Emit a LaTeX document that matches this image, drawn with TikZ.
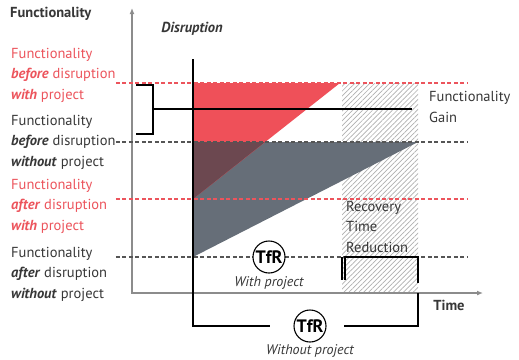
\documentclass[tikz,border=0pt]{standalone}
\usepackage{fontspec}
\setmainfont{PT Sans}
\usetikzlibrary{patterns.meta, arrows.meta, positioning}
\definecolor{gainred}{RGB}{239, 80, 89}
\definecolor{lossgray}{RGB}{102, 110, 120}
\definecolor{overlapred}{RGB}{108, 72, 80}
\definecolor{textdark}{RGB}{55, 55, 55}
\definecolor{textred}{RGB}{236, 84, 92}
\definecolor{axisgray}{RGB}{140, 140, 140}
\definecolor{hatchgray}{RGB}{175, 175, 175}

\begin{document}
\begin{tikzpicture}[x=1pt, y=-1pt,
	lbl/.style={align=left, anchor=west, inner sep=0pt, text=textdark, font=\fontsize{14.5}{20.5}\selectfont},
	level/.style={dash pattern=on 4pt off 2.5pt, line width=1.3pt},
	bracket/.style={line width=1.3pt, black},
	tfr/.style={circle, draw, line width=1.1pt, fill=white, inner sep=0pt, minimum size=32pt, font=\bfseries\fontsize{18}{18}\selectfont},
	note/.style={inner sep=0pt, text=textdark, font=\itshape\fontsize{14}{15}\selectfont}
	]
	\useasboundingbox (0,0) rectangle (519,359);
	
	% Key points
	\coordinate (origin) at (132,293);
	\coordinate (ytop) at (132,8);
	\coordinate (xend) at (483,293);
	\coordinate (distop) at (193,59);
	\coordinate (b1) at (193,83);
	\coordinate (b2) at (193,142);
	\coordinate (a1) at (193,199);
	\coordinate (a2) at (193,257);
	\coordinate (r1) at (340,83);
	\coordinate (r2) at (418,142);
	\coordinate (ovl) at (265,142);
	
	% Recovery time reduction (hatched)
	\fill[pattern={Lines[angle=45, distance=3.5pt, line width=0.7pt]}, pattern color=hatchgray] (342,83) rectangle (418,293);
	
	% Recovery areas
	\fill[lossgray] (b2) -- (r2) -- (a2) -- cycle;
	\fill[gainred] (b1) -- (r1) -- (a1) -- cycle;
	\fill[overlapred] (b2) -- (ovl) -- (a1) -- cycle;
	
	% Axes
	\draw[axisgray, line width=1.3pt, {Latex[length=6pt, width=5pt]}-{Latex[length=6pt, width=5pt]}] (ytop) -- (origin) -- (xend);
	\node[font=\bfseries\fontsize{14.5}{15}\selectfont, text=textdark, anchor=west, inner sep=0pt] (ylab) at (10,14) {Functionality};
	\node[font=\bfseries\fontsize{14.5}{15}\selectfont, text=textdark, inner sep=0pt] (xlab) at (449,305) {Time};
	\node[font=\bfseries\itshape\fontsize{14.5}{15}\selectfont, text=textdark, inner sep=0pt] (dislab) at (192,29) {Disruption};
	
	% Level labels
	\node[lbl, text=textred] (lb1) at (11,75) {Functionality\\\textbf{\textit{before}} disruption\\\textbf{\textit{with}} project};
	\node[lbl] (lb2) at (11,142) {Functionality\\\textbf{\textit{before}} disruption\\\textbf{\textit{without}} project};
	\node[lbl, text=textred] (la1) at (11,206) {Functionality\\\textbf{\textit{after}} disruption\\\textbf{\textit{with}} project};
	\node[lbl] (la2) at (11,274) {Functionality\\\textbf{\textit{after}} disruption\\\textbf{\textit{without}} project};
	
	% Level lines
	\coordinate (e1) at (468,83);
	\coordinate (e2) at (468,142);
	\coordinate (e3) at (468,199);
	\coordinate (e4) at (468,257);
	\draw[level, draw=textred] (lb1.east |- b1) -- (e1);
	\draw[level, draw=textdark!85] (lb2.east |- b2) -- (e2);
	\draw[level, draw=textred] (lb1.east |- a1) -- (e3);
	\draw[level, draw=textdark!85] (lb1.east |- a2) -- (e4);
	
	% Disruption line
	\draw[bracket] (distop) -- (193,326) -- (270,326);
	
	% Functionality gain
	\draw[bracket] (136,85) -- (153,85) -- (153,134) -- (136,134);
	\coordinate (gmid) at (153,109);
	\node[lbl, anchor=west] (gain) at (429,107) {Functionality\\Gain};
	\draw[bracket] (gmid) -- (412,109);
	
	% Recovery time reduction
	\node[lbl, anchor=north west] (rtr) at (346,201) {Recovery\\Time\\Reduction};
	\draw[bracket] (345,280) -- (345,257) -- (418,257) -- (418,283);
	
	% TfR with project
	\draw[bracket] (342,257) -- (342,280);
	\node[tfr] (tfrw) at (269,257) {TfR};
	\node[note, below=3pt of tfrw] (withp) {With project};
	
	% TfR without project
	\node[tfr] (tfro) at (310,326) {TfR};
	\draw[bracket] (344,326) -- (418,326) -- (418,293);
	\node[note, below=2pt of tfro] (withoutp) {Without project};
\end{tikzpicture}
\end{document}
